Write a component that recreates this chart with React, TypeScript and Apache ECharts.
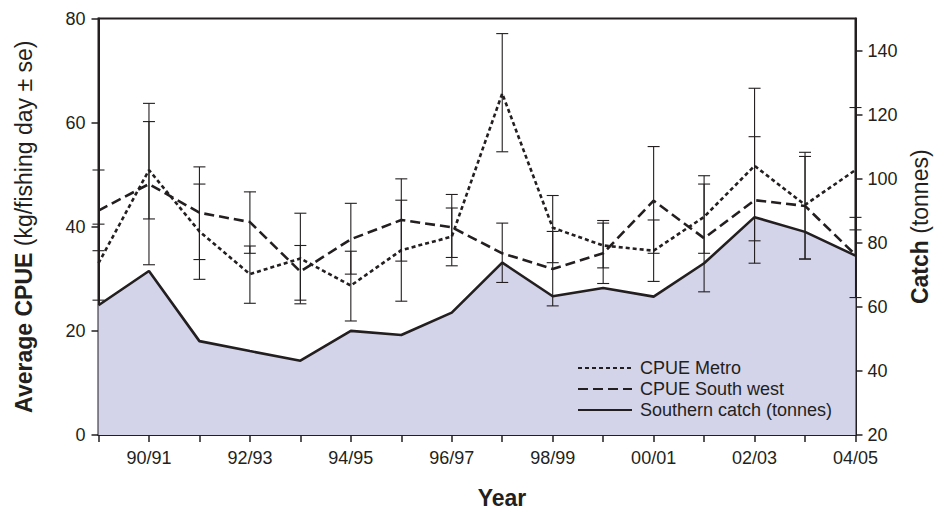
import React, { useEffect, useRef } from "react";
import * as echarts from "echarts";

// Fishing years on the x axis
const years = [
  "89/90", "90/91", "91/92", "92/93", "93/94", "94/95", "95/96", "96/97",
  "97/98", "98/99", "99/00", "00/01", "01/02", "02/03", "03/04", "04/05",
];

// CPUE Metro (kg/fishing day) with standard-error bounds
const metro = [33.0, 50.9, 39.1, 30.9, 33.9, 28.7, 35.5, 38.1, 65.6, 39.8, 36.4, 35.4, 41.9, 51.7, 44.2, 50.9];
const metroLow = [25.9, 41.5, 29.9, 25.3, 25.2, 21.9, 25.7, 32.5, 54.4, 33.1, 32.1, 29.5, 34.9, 37.3, 33.8, 39.4];
const metroHigh = [40.5, 60.2, 48.2, 36.3, 42.6, 35.3, 45.1, 43.6, 77.1, 46.0, 41.2, 41.3, 49.8, 66.6, 54.3, 62.9];

// CPUE South west (kg/fishing day) with standard-error bounds
const southWest = [43.1, 48.2, 42.7, 40.9, 31.4, 37.6, 41.3, 39.9, 34.9, 31.9, 34.9, 45.0, 37.8, 45.1, 44.0, 34.6];
const southWestLow = [35.4, 32.7, 33.7, 34.9, 25.9, 30.9, 33.4, 34.1, 29.3, 24.8, 29.1, 34.9, 27.5, 33.0, 33.8, 26.4];
const southWestHigh = [50.9, 63.7, 51.5, 46.7, 36.4, 44.5, 49.2, 46.2, 40.7, 39.1, 40.7, 55.4, 48.2, 57.3, 53.5, 41.8];

// Southern catch (tonnes), right axis
const southernCatch = [60.5, 71.2, 49.3, 46.2, 43.2, 52.5, 51.2, 58.2, 73.8, 63.3, 65.9, 63.2, 73.6, 88.0, 83.4, 76.0];

// Tick values
const cpueTicks = [0, 20, 40, 60, 80];
const catchTicks = [20, 40, 60, 80, 100, 120, 140];

const INK = "#231f20";
const FONT = "Liberation Sans, Arial, Helvetica, sans-serif";

function errorBarItem(params: any, api: any) {
  const i = api.value(0);
  const lo = api.coord([i, api.value(1)]);
  const hi = api.coord([i, api.value(2)]);
  const w = 6;
  const style = { stroke: INK, lineWidth: 1.1 };
  return {
    type: "group",
    children: [
      { type: "line", shape: { x1: lo[0], y1: lo[1], x2: hi[0], y2: hi[1] }, style },
      { type: "line", shape: { x1: lo[0] - w, y1: lo[1], x2: lo[0] + w, y2: lo[1] }, style },
      { type: "line", shape: { x1: hi[0] - w, y1: hi[1], x2: hi[0] + w, y2: hi[1] }, style },
    ],
  };
}

export default function App() {
  const ref = useRef<HTMLDivElement>(null);

  useEffect(() => {
    if (!ref.current) return;
    const chart = echarts.init(ref.current, null, { renderer: "svg" });

    const metroBars = years.map((_, i) => [i, metroLow[i], metroHigh[i]]);
    const southWestBars = years.map((_, i) => [i, southWestLow[i], southWestHigh[i]]);

    chart.setOption({
      animation: false,
      backgroundColor: "#ffffff",
      textStyle: { fontFamily: FONT, color: INK },
      grid: {
        left: 98.5,
        right: 82.5,
        top: 18.5,
        bottom: 76,
        outerBoundsMode: "none",
        show: true,
        borderColor: INK,
        borderWidth: 2,
        backgroundColor: "transparent",
      },
      legend: {
        orient: "vertical",
        left: 572,
        top: 353,
        itemWidth: 54,
        itemHeight: 14,
        itemGap: 1,
        itemStyle: { opacity: 0 },
        data: ["CPUE Metro", "CPUE South west", "Southern catch (tonnes)"],
        textStyle: { fontFamily: FONT, fontSize: 18, color: INK, padding: [0, 0, 0, 3], lineHeight: 20 },
      },
      xAxis: {
        type: "category",
        data: years,
        boundaryGap: false,
        name: "Year",
        nameLocation: "middle",
        nameGap: 51,
        nameTextStyle: { fontFamily: FONT, fontSize: 23, fontWeight: "bold", color: INK, padding: [0, 0, 0, 50] },
        axisLine: { lineStyle: { color: INK, width: 2 } },
        axisTick: { show: true, inside: false, length: 7, interval: 0, lineStyle: { color: INK, width: 1.5 } },
        axisLabel: {
          interval: (index: number) => index % 2 === 1,
          margin: 14,
          fontSize: 18,
          fontFamily: FONT,
          color: INK,
        },
        splitLine: { show: false },
      },
      yAxis: [
        {
          type: "value",
          min: 0,
          max: 80,
          interval: 20,
          name: "{b|Average CPUE} (kg/fishing day ± se)",
          nameLocation: "middle",
          nameGap: 63,
          nameTextStyle: {
            fontFamily: FONT,
            fontSize: 23,
            color: INK,
            rich: { b: { fontFamily: FONT, fontSize: 23, fontWeight: "bold", color: INK } },
          },
          axisLine: { show: true, lineStyle: { color: INK, width: 2 } },
          axisTick: { show: true, inside: false, length: 7, lineStyle: { color: INK, width: 1.5 }, customValues: cpueTicks },
          axisLabel: { margin: 13, fontSize: 18, fontFamily: FONT, color: INK, customValues: cpueTicks },
          splitLine: { show: false },
        },
        {
          type: "value",
          position: "right",
          min: 20,
          max: 150,
          interval: 20,
          name: "{b|Catch} (tonnes)",
          nameLocation: "middle",
          nameGap: 40,
          nameTextStyle: {
            fontFamily: FONT,
            fontSize: 23,
            color: INK,
            rich: { b: { fontFamily: FONT, fontSize: 23, fontWeight: "bold", color: INK } },
          },
          axisLine: { show: true, lineStyle: { color: INK, width: 2 } },
          axisTick: { show: true, inside: false, length: 7, lineStyle: { color: INK, width: 1.5 }, customValues: catchTicks },
          axisLabel: { margin: 12, fontSize: 18, fontFamily: FONT, color: INK, customValues: catchTicks },
          splitLine: { show: false },
        },
      ],
      series: [
        {
          name: "Southern catch (tonnes)",
          type: "line",
          yAxisIndex: 1,
          data: southernCatch,
          symbol: "none",
          lineStyle: { color: INK, width: 2.6, type: "solid" },
          itemStyle: { color: INK },
          areaStyle: { color: "#d3d4ea", opacity: 1, origin: "start" },
          z: 1,
        },
        {
          name: "Metro error",
          type: "custom",
          yAxisIndex: 0,
          data: metroBars,
          encode: { x: 0, y: [1, 2] },
          renderItem: errorBarItem,
          z: 2,
        },
        {
          name: "South west error",
          type: "custom",
          yAxisIndex: 0,
          data: southWestBars,
          encode: { x: 0, y: [1, 2] },
          renderItem: errorBarItem,
          z: 2,
        },
        {
          name: "CPUE Metro",
          type: "line",
          yAxisIndex: 0,
          data: metro,
          symbol: "none",
          lineStyle: { color: INK, width: 2.6, type: [4, 3] },
          itemStyle: { color: INK },
          z: 3,
        },
        {
          name: "CPUE South west",
          type: "line",
          yAxisIndex: 0,
          data: southWest,
          symbol: "none",
          lineStyle: { color: INK, width: 2.6, type: [10, 5] },
          itemStyle: { color: INK },
          z: 3,
        },
      ],
    });

    return () => chart.dispose();
  }, []);

  return (
    <div
      ref={ref}
      style={{ position: "fixed", left: 0, top: 0, width: 938, height: 511, background: "#fff" }}
    />
  );
}
